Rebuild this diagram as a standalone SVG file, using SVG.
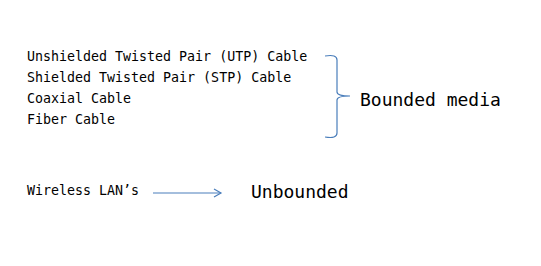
<svg xmlns="http://www.w3.org/2000/svg" width="541" height="266" viewBox="0 0 541 266">
<style>
.t{font-family:"DejaVu Sans Mono","Liberation Mono",monospace;font-size:13.3px;fill:#000}
.b{font-family:"DejaVu Sans Mono","Liberation Mono",monospace;font-size:18px;fill:#000}
.c{fill:none;stroke:#4a7ebb;stroke-width:1.2}
</style>
<defs>
<marker id="ah" markerWidth="10" markerHeight="10" refX="8" refY="5" orient="auto" markerUnits="userSpaceOnUse">
<path d="M1,1 L8,5 L1,9" fill="none" stroke="#4a7ebb" stroke-width="1.2"/>
</marker>
</defs>
<rect width="541" height="266" fill="#fff"/>
<g id="bounded-list">
<text class="t" x="27" y="61">Unshielded Twisted Pair (UTP) Cable</text>
<text class="t" x="27" y="82">Shielded Twisted Pair (STP) Cable</text>
<text class="t" x="27" y="103">Coaxial Cable</text>
<text class="t" x="27" y="124">Fiber Cable</text>
</g>
<g id="bounded-label"><text class="b" x="360" y="106">Bounded media</text></g>
<g id="wireless"><text class="t" x="27" y="195">Wireless LAN’s</text></g>
<g id="unbounded"><text class="b" x="251" y="198">Unbounded</text></g>
<g id="connectors">
<path class="c" d="M325,56 Q337,54 337,60 L337,92 Q337,96 350,96 Q337,96 337,100 L337,133 Q337,139 325,137"/>
<line class="c" x1="153" y1="193" x2="221" y2="193" marker-end="url(#ah)"/>
</g>
</svg>
